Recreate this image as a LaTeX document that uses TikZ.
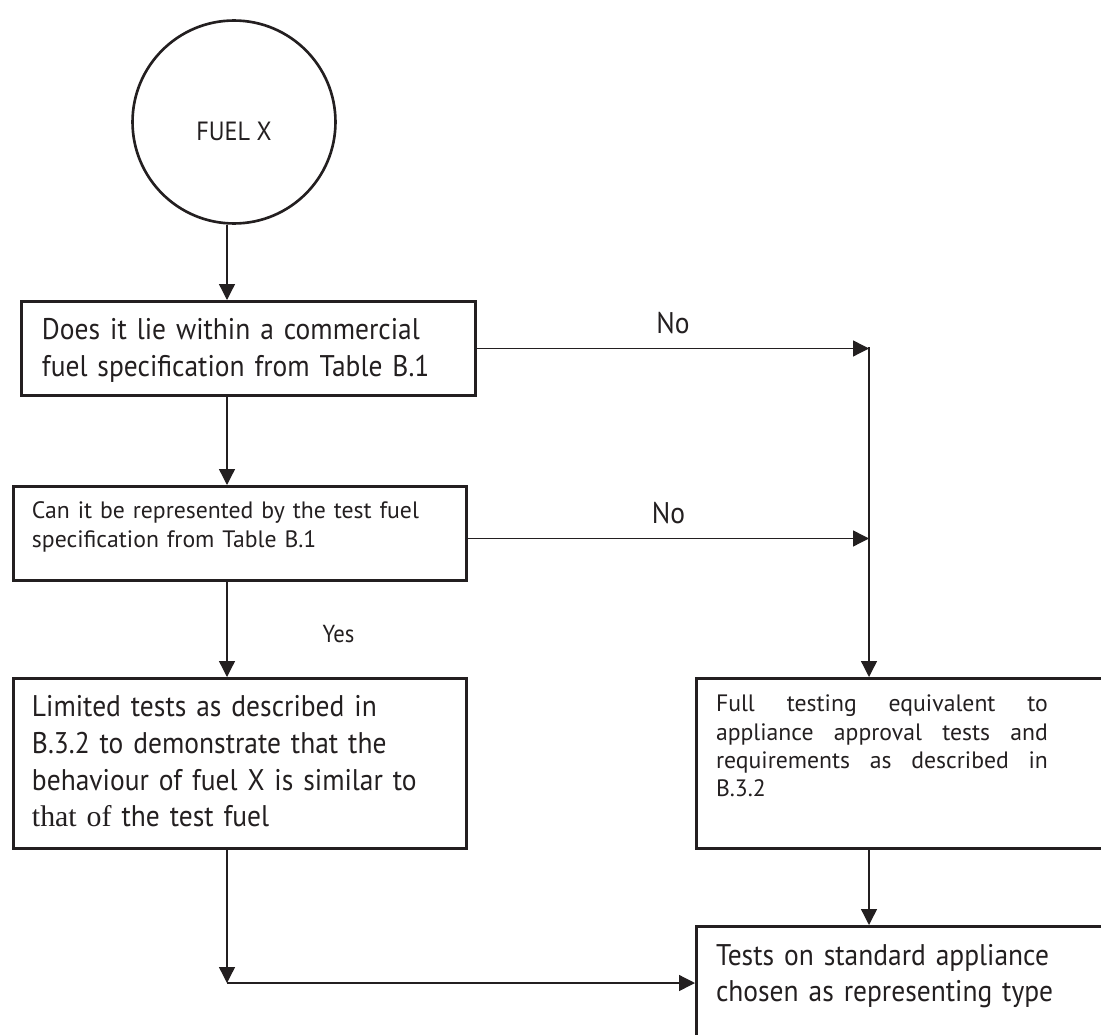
\documentclass[tikz,border=0pt]{standalone}
\usepackage{fontspec}
\setmainfont{PT Sans}
\newfontfamily\narrowfont{PT Sans}[FakeStretch=0.92]
\newfontfamily\serifpart{Liberation Serif}
\usetikzlibrary{arrows.meta,positioning,calc}
\definecolor{ink}{RGB}{35,31,32}
\newcommand{\bigtxt}{\narrowfont\fontsize{17}{20.8}\selectfont}
\newcommand{\smalltxt}{\fontsize{13.5}{16}\selectfont}

\begin{document}
\begin{tikzpicture}[
    x=0.02cm, y=-0.02cm,
    box/.style={rectangle, draw=ink, line width=1.7pt, anchor=north west,
                align=left, inner ysep=0pt, text=ink},
    conn/.style={->, draw=ink, line width=0.75pt},
    lbl/.style={text=ink, inner sep=0pt},
    >={Triangle[length=0.32cm, width=0.32cm]}
]
\clip (0,0) rectangle (1101,1034);
\node[circle, draw=ink, line width=1.5pt, minimum size=4.06cm, text=ink,
      text height=0.75cm, text depth=0pt,
      font=\narrowfont\fontsize{15}{18}\selectfont] (fuel) at (234,122) {FUEL X};
\node[box, font=\bigtxt, inner xsep=0.41cm, text width=8.26cm,
      text height=0.77cm, text depth=1.11cm] (q1) at (20,300)
     {Does it lie within a commercial\\fuel specification from Table B.1};
\node[box, font=\smalltxt, inner xsep=0.37cm, text width=8.32cm,
      text height=0.65cm, text depth=1.23cm] (q2) at (12,485)
     {Can it be represented by the test fuel\\specification from Table B.1};
\node[box, font=\bigtxt, inner xsep=0.37cm, text width=8.32cm,
      text height=0.77cm, text depth=2.63cm] (lim) at (12,677)
     {Limited tests as described in\\B.3.2 to demonstrate that the\\behaviour of fuel X is similar to\\{\serifpart that of} the test fuel};
\node[box, font=\smalltxt, align=justify, inner xsep=0.39cm, text width=8.5cm,
      text height=0.67cm, text depth=2.73cm] (full) at (695,677)
     {\parbox[t]{6.64cm}{Full testing equivalent to\linebreak appliance approval tests and\linebreak requirements as described in\linebreak B.3.2}};
\node[box, font=\bigtxt, inner xsep=0.39cm, text width=8.5cm,
      text height=0.77cm, text depth=2.4cm] (std) at (695,925)
     {Tests on standard appliance\\chosen as representing type};

\coordinate (spine) at (227,0);
\coordinate (nojoin) at (869,347);
\coordinate (merge) at (227,983);

\draw[conn] (fuel.south -| spine) -- (q1.north -| spine);
\draw[conn] (q1.south -| spine) -- (q2.north -| spine);
\draw[conn] (q2.south -| spine) -- node[lbl, right=1.9cm, yshift=-0.1cm, font=\narrowfont\fontsize{14}{16}\selectfont] {Yes} (lim.north -| spine);
\draw[conn] (q1.east) -- node[lbl, above=0.28cm, font=\bigtxt] {No} (q1.east -| nojoin);
\draw[conn] ($(q2.east)+(0,5)$) -- node[lbl, above=0.28cm, font=\bigtxt] {No} ($(q2.east -| nojoin)+(0,5)$);
\draw[conn] (nojoin) -- (nojoin |- full.north);
\draw[conn] (full.south -| nojoin) -- (std.north -| nojoin);
\draw[conn] (lim.south -| spine) -- (merge);
\draw[conn] (merge) -- (merge -| std.west);
\end{tikzpicture}
\end{document}
